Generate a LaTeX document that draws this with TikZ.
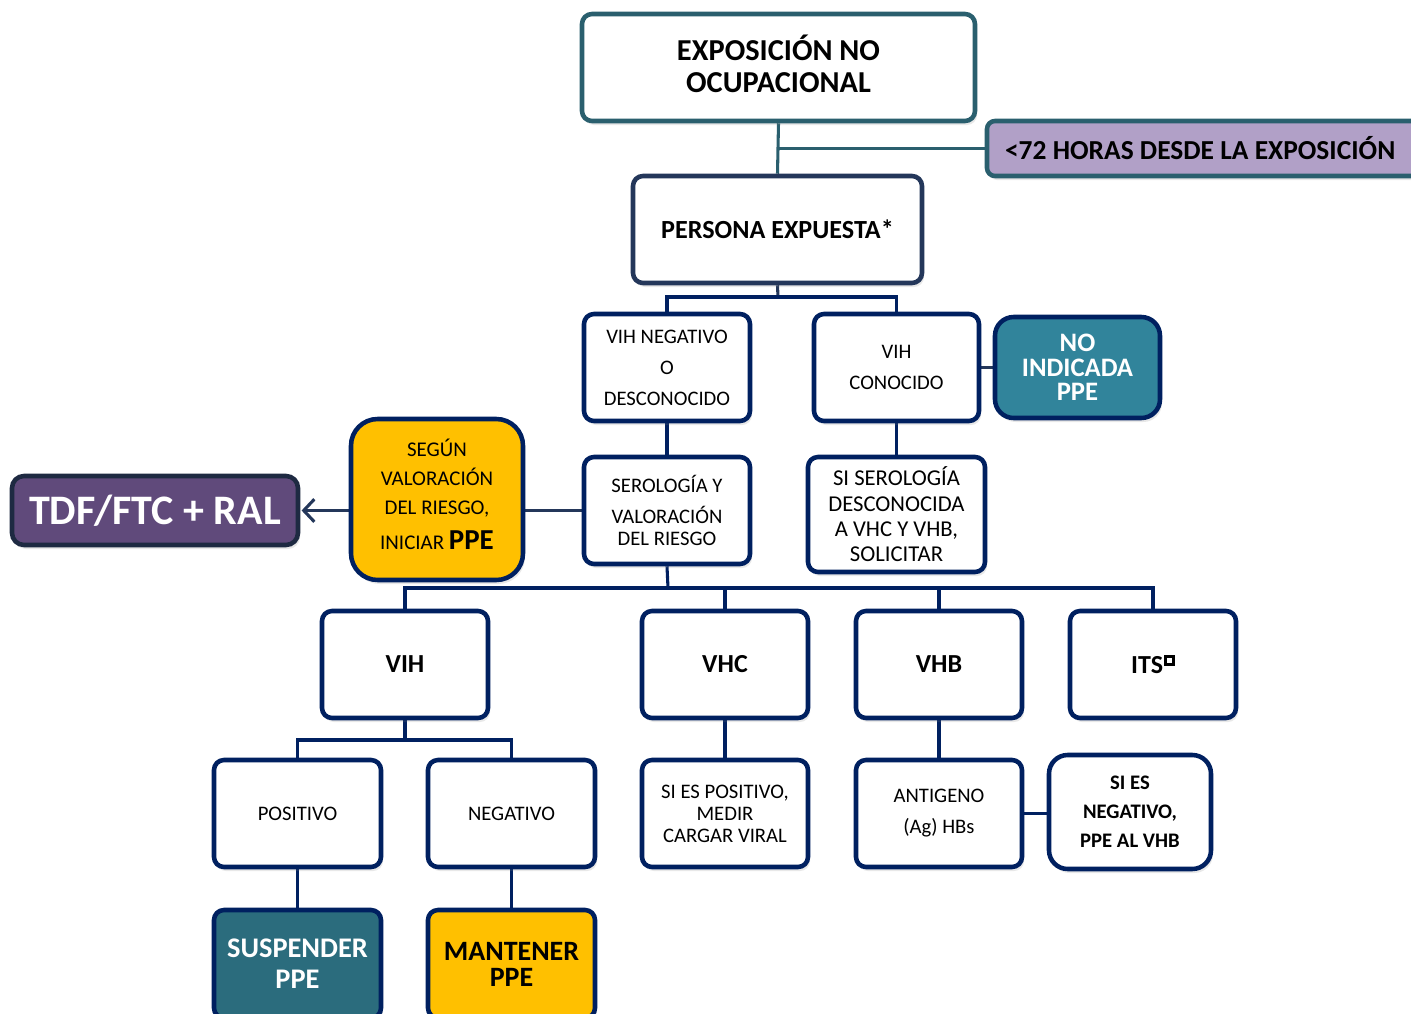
\documentclass[tikz,border=0pt]{standalone}
\usepackage{fontspec}
\setmainfont{Carlito}
\usetikzlibrary{arrows.meta,shadows,backgrounds,calc}
\definecolor{tealb}{RGB}{42,95,110}
\definecolor{slate}{RGB}{36,55,90}
\definecolor{navy}{RGB}{0,32,96}
\definecolor{lav}{RGB}{177,160,199}
\definecolor{tealf}{RGB}{49,132,155}
\definecolor{teald}{RGB}{43,108,125}
\definecolor{gold}{RGB}{255,192,0}
\definecolor{purp}{RGB}{96,74,123}
\definecolor{purpb}{RGB}{30,42,66}
\tikzset{
  bx/.style={draw=navy, line width=3.4pt, rounded corners=7.5pt, fill=white, inner sep=0pt, align=center,
    drop shadow={shadow xshift=1.5pt, shadow yshift=-3pt, opacity=0.18}},
  conn/.style={draw=navy, line width=2.3pt},
  reg/.style={font=\fontsize{15.5}{23.25}\selectfont},
  hdr/.style={font=\fontsize{19.5}{22}\selectfont\bfseries},
}
\newcommand\mybox[7][]{\node[bx,#1,minimum width={(#5-#3)*0.75pt},minimum height={(#6-#4)*0.75pt}] (#2) at ({(#3+#5)/2},{(#4+#6)/2}) {#7};}
\newcommand\dep[1]{\rule[-#1]{0pt}{0pt}}
\begin{document}
\begin{tikzpicture}[x=0.75pt,y=-0.75pt]
\useasboundingbox (0,0) rectangle (1411,1014);
\clip (0,0) rectangle (1411,1014);
% boxes
\mybox[draw=tealb, font=\fontsize{22.8}{24}\selectfont\bfseries]{expo}{582}{14}{975}{121}{EXPOSICIÓN NO\\OCUPACIONAL\dep{6pt}}
\mybox[draw=tealb, fill=lav, rounded corners=6pt, font=\fontsize{20.6}{22}\selectfont\bfseries]{hrs}{987}{121}{1440}{176}{<72 HORAS DESDE LA EXPOSICIÓN\hspace{20pt}}
\mybox[draw=slate, font=\fontsize{19.6}{22}\selectfont\bfseries]{pers}{633}{176}{922}{283}{PERSONA EXPUESTA*}
\mybox[reg]{vneg}{584}{314}{750}{421}{VIH NEGATIVO\\O\\DESCONOCIDO}
\mybox[reg]{vcon}{814}{314}{979}{421}{VIH\\CONOCIDO}
\mybox[fill=tealf, rounded corners=14pt, text=white, font=\fontsize{20}{18.3}\selectfont\bfseries]{noind}{995}{317}{1160}{418}{NO\\INDICADA\\PPE}
\mybox[font=\fontsize{15.5}{16.5}\selectfont]{sero}{584}{457}{750}{564}{SEROLOGÍA Y\\[7pt]VALORACIÓN\\DEL RIESGO}
\mybox[font=\fontsize{17}{19}\selectfont]{sisero}{808}{457}{985}{572}{SI SEROLOGÍA\\DESCONOCIDA\\A VHC Y VHB,\\SOLICITAR}
\mybox[fill=gold, rounded corners=20pt, font=\fontsize{15.7}{22}\selectfont]{segun}{351}{419}{523}{580}{SEGÚN\\VALORACIÓN\\DEL RIESGO,\\[4pt]INICIAR {\fontsize{21.7}{24}\selectfont\bfseries PPE}\dep{8pt}}
\mybox[fill=purp, draw=purpb, text=white, rounded corners=9pt, font=\fontsize{31.5}{34}\selectfont\bfseries]{tdf}{12}{476}{298}{545}{TDF/FTC + RAL}
\mybox[hdr]{vih}{322}{611}{488}{718}{VIH}
\mybox[hdr]{vhc}{642}{611}{808}{718}{VHC}
\mybox[hdr]{vhb}{856}{611}{1022}{718}{VHB}
\mybox[hdr]{its}{1070}{611}{1236}{718}{ITS\hspace{1pt}\raisebox{9.5pt}{\fboxsep=2pt\fboxrule=1.9pt\fbox{}}}
\mybox[reg]{pos}{214}{760}{381}{867}{POSITIVO}
\mybox[reg]{neg}{428}{760}{595}{867}{NEGATIVO}
\mybox[fill=teald, text=white, font=\fontsize{21.3}{23}\selectfont\bfseries]{susp}{214}{910}{381}{1018}{SUSPENDER\\PPE}
\mybox[fill=gold, font=\fontsize{21}{19.5}\selectfont\bfseries]{mant}{428}{910}{595}{1018}{MANTENER\\PPE}
\mybox[font=\fontsize{15.5}{16.5}\selectfont]{sipos}{642}{760}{808}{867}{SI ES POSITIVO,\\MEDIR\\CARGAR VIRAL}
\mybox[reg]{ant}{856}{760}{1022}{867}{ANTIGENO\\(Ag) HBs}
\mybox[rounded corners=14pt, font=\fontsize{15.5}{21.75}\selectfont\bfseries]{sineg}{1049}{755}{1211}{869}{SI ES\\NEGATIVO,\\PPE AL VHB}
% connectors
\begin{scope}[on background layer]
\draw[conn, draw=tealb] (expo.south) -- (pers.north);
\draw[conn, draw=tealb] (expo.south |- hrs.west) -- (hrs.west);
\coordinate (b1) at (778,297);
\draw[conn, draw=slate] (pers.south) -- (b1);
\draw[conn] (vneg.north) |- (b1) -| (vcon.north);
\draw[conn] (vneg) -- (sero);
\draw[conn] (vcon) -- (sisero);
\draw[conn, draw=slate] (vcon) -- (noind);
\draw[conn, draw=slate] (sero.west) -- (sero.west -| segun.east);
\draw[conn, draw=slate, -{Straight Barb[length=8pt,width=17pt,line width=2.3pt]}, shorten >=1pt] (segun.west |- tdf.east) -- (tdf.east);
\coordinate (b2) at (668,588);
\draw[conn] (sero.south) -- (b2);
\draw[conn] (vih.north) |- (b2) -| (its.north);
\draw[conn] (vhc.north) -- (vhc.north |- b2);
\draw[conn] (vhb.north) -- (vhb.north |- b2);
\coordinate (b3) at (405,740);
\draw[conn] (vih.south) -- (b3);
\draw[conn] (pos.north) |- (b3) -| (neg.north);
\draw[conn] (pos) -- (susp);
\draw[conn] (neg) -- (mant);
\draw[conn] (vhc) -- (sipos);
\draw[conn] (vhb) -- (ant);
\draw[conn] (ant.east) -- (ant.east -| sineg.west);
\end{scope}
\end{tikzpicture}
\end{document}
